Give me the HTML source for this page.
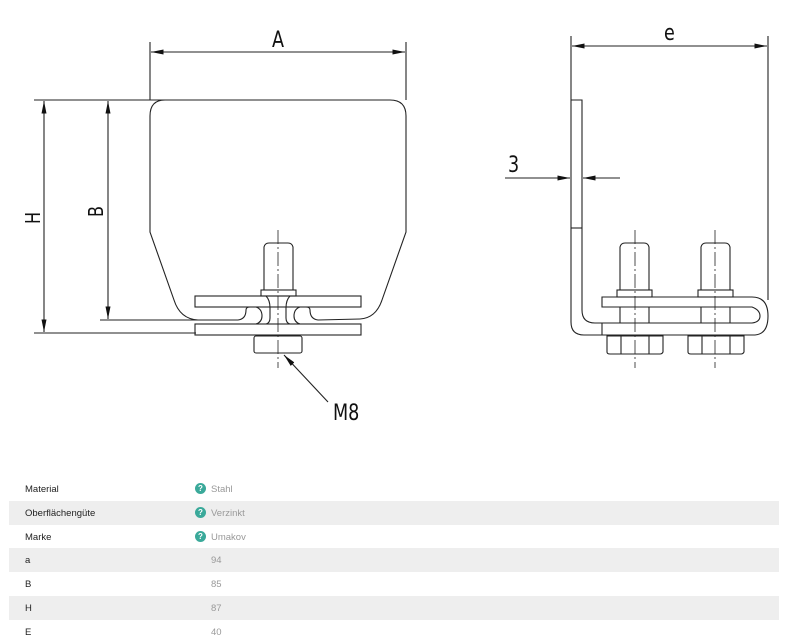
<!DOCTYPE html>
<html><head><meta charset="utf-8"><style>
body{margin:0;background:#fff;width:792px;height:638px;overflow:hidden;font-family:"Liberation Sans",sans-serif}
.row{position:absolute;left:9px;width:770px;height:24px;font-size:9.5px}
.row.g{background:#eeeeee}
.k{position:absolute;left:16px;top:7px;color:#222}
.v{position:absolute;left:202px;top:7px;color:#999}
.q{position:absolute;left:186px;top:6px;width:11px;height:11px;border-radius:50%;background:#3aa99a;color:#fff;font-size:8px;font-weight:bold;text-align:center;line-height:11px}
</style></head><body>
<svg width="792" height="470" style="position:absolute;left:0;top:0" fill="none" stroke="#222" stroke-width="1.1">
<defs><marker id="ar" viewBox="0 0 10 4" refX="10" refY="2" markerWidth="18" markerHeight="5" orient="auto-start-reverse" markerUnits="userSpaceOnUse"><path d="M0,0L10,2L0,4z" fill="#111" stroke="none"/></marker></defs>
<!-- left view -->
<line x1="150" y1="42" x2="150" y2="100"/><line x1="406" y1="42" x2="406" y2="100"/>
<line x1="151" y1="52" x2="405" y2="52" marker-start="url(#ar)" marker-end="url(#ar)"/>
<text x="272" y="47" font-family="DejaVu Sans" font-size="22" fill="#111" stroke="none" transform="scale(0.8,1) translate(68,0)">A</text>
<line x1="34" y1="100" x2="165" y2="100"/>
<path d="M165,100 L390,100 Q406,100 406,116 L406,232 L382,300 Q376,318 360,319"/>
<path d="M150,116 Q150,100 165,100"/>
<path d="M150,116 L150,232 L174,300 Q180,319 198,320 L238,320 Q246,319 246,310"/>
<line x1="100" y1="320" x2="198" y2="320"/>
<line x1="34" y1="333" x2="196" y2="333"/>
<line x1="44" y1="101" x2="44" y2="332" marker-start="url(#ar)" marker-end="url(#ar)"/>
<line x1="108" y1="101" x2="108" y2="319" marker-start="url(#ar)" marker-end="url(#ar)"/>
<text x="0" y="0" font-family="DejaVu Sans" font-size="20" fill="#111" stroke="none" transform="translate(40,224) rotate(-90) scale(0.8,1)">H</text>
<text x="0" y="0" font-family="DejaVu Sans" font-size="20" fill="#111" stroke="none" transform="translate(103,217) rotate(-90) scale(0.8,1)">B</text>
<!-- bolt left -->
<path d="M264,290 L264,247 Q265,243 269,243 L288,243 Q292,243 293,247 L293,290"/>
<rect x="261" y="290" width="35" height="6"/>
<rect x="195" y="296" width="166" height="11"/>
<rect x="195" y="324" width="166" height="11"/>
<path d="M246,310 Q246,307 250,307 L256,307 Q262,309 262,316 Q262,322 256,324"/>
<path d="M310,310 Q310,307 306,307 L300,307 Q294,309 294,316 Q294,322 300,324"/>
<path d="M266,296 Q270,300 270,308 L270,318 Q270,323 266,324 M290,296 Q286,300 286,308 L286,318 Q286,323 290,324"/>
<path d="M310,310 Q310,319 318,320 L360,319"/>
<rect x="254" y="336" width="48" height="17" rx="2"/>
<line x1="278" y1="230" x2="278" y2="368" stroke-width="0.8" stroke-dasharray="14,3,2,3"/>
<line x1="328" y1="402" x2="284" y2="355" marker-end="url(#ar)"/>
<text x="0" y="0" font-family="DejaVu Sans" font-size="22" fill="#111" stroke="none" transform="translate(333,420) scale(0.8,1)">M8</text>
<!-- right view -->
<line x1="571" y1="36" x2="571" y2="100"/><line x1="768" y1="36" x2="768" y2="300"/>
<line x1="572" y1="46" x2="767" y2="46" marker-start="url(#ar)" marker-end="url(#ar)"/>
<text x="0" y="0" font-family="DejaVu Sans" font-size="22" fill="#111" stroke="none" transform="translate(664,40) scale(0.8,1)">e</text>
<path d="M571,100 H582 V310 Q582,323 595,323 H602"/>
<path d="M571,100 V322 Q571,335 584,335 H755 Q768,334 768,316 Q768,297 752,297 H602 V307 H752 Q760,310 760,316 Q760,322 752,323 H602 V335"/>
<line x1="571" y1="228" x2="582" y2="228"/>
<line x1="505" y1="178" x2="570" y2="178" marker-end="url(#ar)"/>
<line x1="620" y1="178" x2="583" y2="178" marker-end="url(#ar)"/>
<text x="0" y="0" font-family="DejaVu Sans" font-size="22" fill="#111" stroke="none" transform="translate(508,172) scale(0.8,1)">3</text>
<path d="M620,290 V247 Q621,243 625,243 H644 Q648,243 649,247 V290"/>
<rect x="617" y="290" width="35" height="7"/>
<path d="M620,307 V323 M649,307 V323"/>
<path d="M701,290 V247 Q702,243 706,243 H725 Q729,243 730,247 V290"/>
<rect x="698" y="290" width="35" height="7"/>
<path d="M701,307 V323 M730,307 V323"/>
<path d="M607,336 H663 V352 Q662,354 660,354 H610 Q607,354 607,352Z M621,336 V354 M649,336 V354"/>
<path d="M688,336 H744 V352 Q743,354 741,354 H691 Q688,354 688,352Z M702,336 V354 M730,336 V354"/>
<line x1="635" y1="230" x2="635" y2="368" stroke-width="0.8" stroke-dasharray="14,3,2,3"/>
<line x1="715" y1="230" x2="715" y2="368" stroke-width="0.8" stroke-dasharray="14,3,2,3"/>
</svg>
<div class="row" style="top:477px"><span class="k">Material</span><span class="q">?</span><span class="v">Stahl</span></div>
<div class="row g" style="top:501px"><span class="k">Oberflächengüte</span><span class="q">?</span><span class="v">Verzinkt</span></div>
<div class="row" style="top:525px"><span class="k">Marke</span><span class="q">?</span><span class="v">Umakov</span></div>
<div class="row g" style="top:548px"><span class="k">a</span><span class="v">94</span></div>
<div class="row" style="top:572px"><span class="k">B</span><span class="v">85</span></div>
<div class="row g" style="top:596px"><span class="k">H</span><span class="v">87</span></div>
<div class="row" style="top:620px"><span class="k">E</span><span class="v">40</span></div>
</body></html>
